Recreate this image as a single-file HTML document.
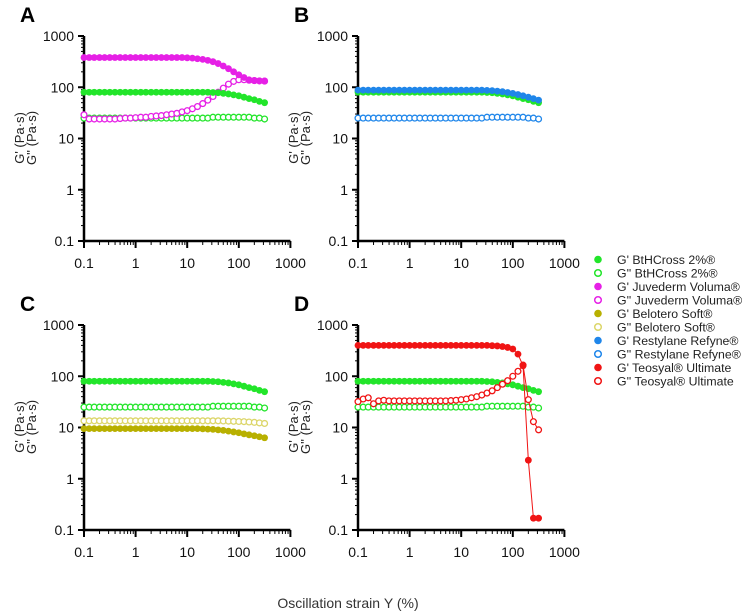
<!DOCTYPE html>
<html><head><meta charset="utf-8"><style>
body{margin:0;background:#fff;}
svg{display:block;font-family:"Liberation Sans",Arial,sans-serif;}
</style></head><body>
<svg id="chart" width="744" height="615" viewBox="0 0 744 615" xmlns="http://www.w3.org/2000/svg"></svg>
<script>
const strain = [0.1,0.126,0.158,0.2,0.251,0.316,0.398,0.501,0.631,0.794,1,1.26,1.58,2,2.51,3.16,3.98,5.01,6.31,7.94,10,12.6,15.8,20,25.1,31.6,39.8,50.1,63.1,79.4,100,126,158,200,251,316];
const bthG1 = [80,80,80,80,80,80,80,80,80,80,80,80,80,80,80,80,80,80,80,80,80,80,80,80,80,79,78,76,74,71,68,64,60,57,53,50];
const bthG2 = [25,25,25,25,25,25,25,25,25,25,25,25,25,25,25,25,25,25,25,25,25,25,25,25,25,26,26,26,26,26,26,26,26,25,25,24];
const juvG1 = [380,380,380,380,380,380,380,380,380,380,380,380,380,380,380,380,380,380,380,380,375,370,360,350,335,315,290,260,230,200,175,155,140,135,133,132];
const juvG2 = [29,24,24,24,24,24,24,24.5,25,25,25.5,26,26,27,27.5,28,29,30,31,33,35,38,42,48,56,66,80,96,115,130,140,140,137,135,133,132];
const belG1 = [9.5,9.5,9.5,9.5,9.5,9.5,9.5,9.5,9.5,9.5,9.5,9.5,9.5,9.5,9.5,9.5,9.5,9.5,9.5,9.5,9.5,9.5,9.5,9.4,9.3,9.2,9,8.8,8.5,8.2,7.9,7.5,7.2,6.9,6.6,6.3];
const belG2 = [13.5,13.5,13.5,13.5,13.5,13.5,13.5,13.5,13.5,13.5,13.5,13.5,13.5,13.5,13.5,13.5,13.5,13.5,13.5,13.5,13.5,13.5,13.5,13.5,13.5,13.5,13.5,13.4,13.3,13.2,13.1,13,12.8,12.6,12.3,12];
const resG1 = [88,88,88,88,88,88,88,88,88,88,88,88,88,88,88,88,88,88,88,88,88,88,88,88,88,87,86,84,82,79,76,72,68,64,60,56];
const resG2 = [25,25,25,25,25,25,25,25,25,25,25,25,25,25,25,25,25,25,25,25,25,25,25,25,25,26,26,26,26,26,26,26,26,25,25,24];
const teoG1 = [400,400,400,400,400,400,400,400,400,400,400,400,400,400,400,400,400,400,400,400,400,400,400,400,400,400,395,390,380,365,340,270,160,2.3,0.17,0.17];
const teoG2 = [32,36,38,29,33,34,33,33,33,33,33,33,33,33,33,33,33,33,33.5,34,35,36,38,40,43,47,52,60,70,82,100,125,165,35,13,9];
const yTicks = [1000,100,10,1,0.1];
const yTickLabels = ["1000","100","10","1","0.1"];
const xTicks = [0.1,1,10,100,1000];
const xTickLabels = ["0.1","1","10","100","1000"];

const GREEN="#22e52a", MAG="#e620e6", OLIVE="#b8b000", OLIVE2="#dcd66a", BLUE="#1f86ea", RED="#f01414";
const seriesDefs = {
  bthG1:{d:bthG1,c:GREEN,f:true}, bthG2:{d:bthG2,c:GREEN,f:false},
  juvG1:{d:juvG1,c:MAG,f:true}, juvG2:{d:juvG2,c:MAG,f:false},
  belG1:{d:belG1,c:OLIVE,f:true}, belG2:{d:belG2,c:OLIVE2,f:false},
  resG1:{d:resG1,c:BLUE,f:true}, resG2:{d:resG2,c:BLUE,f:false},
  teoG1:{d:teoG1,c:RED,f:true,line:true}, teoG2:{d:teoG2,c:RED,f:false,line:true}
};
const panels = [
  {id:"a",letter:"A",x0:84,y0:36,series:["bthG2","juvG2","bthG1","juvG1"]},
  {id:"b",letter:"B",x0:358,y0:36,series:["bthG1","resG1","resG2"]},
  {id:"c",letter:"C",x0:84,y0:325,series:["bthG2","belG2","bthG1","belG1"]},
  {id:"d",letter:"D",x0:358,y0:325,series:["bthG2","bthG1","teoG2","teoG1"]}
];
const DX=51.6, DY=51.25;
const NS="http://www.w3.org/2000/svg";
const svg=document.getElementById("chart");
function mk(tag,attrs,parent){const e=document.createElementNS(NS,tag);for(const k in attrs)e.setAttribute(k,attrs[k]);(parent||svg).appendChild(e);return e;}

panels.forEach(p=>{
  const g=mk("g",{});
  
  
  const xs=v=>p.x0+(Math.log10(v)+1)*DX;
  const ys=v=>p.y0+(3-Math.log10(v))*DY;
  const yb=ys(0.1), xr=xs(1000);
  const L=mk("text",{x:p.x0-64,y:p.y0-14,"font-size":"21","font-weight":"bold",fill:"#000"},g);L.textContent=p.letter;
  
  
  // axes
  const ya=mk("line",{x1:p.x0,y1:p.y0,x2:p.x0,y2:yb+1.5,stroke:"#000","stroke-width":2.5},g);
  
  
  const xa=mk("line",{x1:p.x0-1,y1:yb,x2:xr,y2:yb,stroke:"#000","stroke-width":2.5},g);
  
  
  yTicks.forEach((t,i)=>{
    const y=ys(t);
    mk("line",{x1:p.x0-6,y1:y,x2:p.x0,y2:y,stroke:"#000","stroke-width":2},g);
    const tx=mk("text",{x:p.x0-10,y:y+5,"font-size":"14","text-anchor":"end",fill:"#111"},g);tx.textContent=yTickLabels[i];
    
    
    if(i<4){for(let m=2;m<=9;m++){const yy=ys(t/10*m);mk("line",{x1:p.x0-3,y1:yy,x2:p.x0,y2:yy,stroke:"#000","stroke-width":1},g);}}
  });
  xTicks.forEach((t,i)=>{
    const x=xs(t);
    mk("line",{x1:x,y1:yb,x2:x,y2:yb+7,stroke:"#000","stroke-width":2},g);
    const tx=mk("text",{x:x,y:yb+27,"font-size":"14","text-anchor":"middle",fill:"#111"},g);tx.textContent=xTickLabels[i];
    
    
    if(i<4){for(let m=2;m<=9;m++){const xx=xs(t*m);mk("line",{x1:xx,y1:yb,x2:xx,y2:yb+4,stroke:"#000","stroke-width":1},g);}}
  });
  const cy=p.y0+102;
  const t1=mk("text",{x:0,y:0,"font-size":"13",fill:"#222","text-anchor":"middle",transform:`translate(${p.x0-60},${cy}) rotate(-90)`},g);t1.textContent="G' (Pa·s)";
  
  
  const t2=mk("text",{x:0,y:0,"font-size":"13",fill:"#222","text-anchor":"middle",transform:`translate(${p.x0-48},${cy}) rotate(-90)`},g);t2.textContent="G'' (Pa·s)";
  
  
  p.series.forEach(k=>{
    const s=seriesDefs[k];
    const sg=mk("g",{},g);
    
    
    if(s.line){
      const pts=s.d.map((v,i)=>xs(strain[i])+","+ys(v)).join(" ");
      mk("polyline",{points:pts,fill:"none",stroke:s.c,"stroke-width":1},sg);
    }
    s.d.forEach((v,i)=>{
      const c=mk("circle",{cx:xs(strain[i]),cy:ys(v),r:s.f?3.4:2.9,fill:s.f?s.c:"#fff",stroke:s.c,"stroke-width":s.f?0:1.3},sg);
      
      
    });
  });
});

const legendLabels=["G' BtHCross 2%®","G'' BtHCross 2%®","G' Juvederm Voluma®","G'' Juvederm Voluma®","G' Belotero Soft®","G'' Belotero Soft®","G' Restylane Refyne®","G'' Restylane Refyne®","G' Teosyal® Ultimate","G'' Teosyal® Ultimate"];
const legendKeys=["bthG1","bthG2","juvG1","juvG2","belG1","belG2","resG1","resG2","teoG1","teoG2"];
const lg=mk("g",{});


legendKeys.forEach((k,i)=>{
  const s=seriesDefs[k], y=259.5+i*13.5;
  const e=mk("g",{},lg);
  
  
  mk("circle",{cx:598,cy:y,r:s.f?3.8:3.3,fill:s.f?s.c:"#fff",stroke:s.c,"stroke-width":s.f?0:1.5},e);
  const t=mk("text",{x:617,y:y+4.5,"font-size":"12.3",fill:"#222"},e);t.textContent=legendLabels[i];
});
const xt=mk("text",{x:348,y:608,"font-size":"14","text-anchor":"middle",fill:"#333"});xt.textContent="Oscillation strain Υ (%)";


</script>
</body></html>
